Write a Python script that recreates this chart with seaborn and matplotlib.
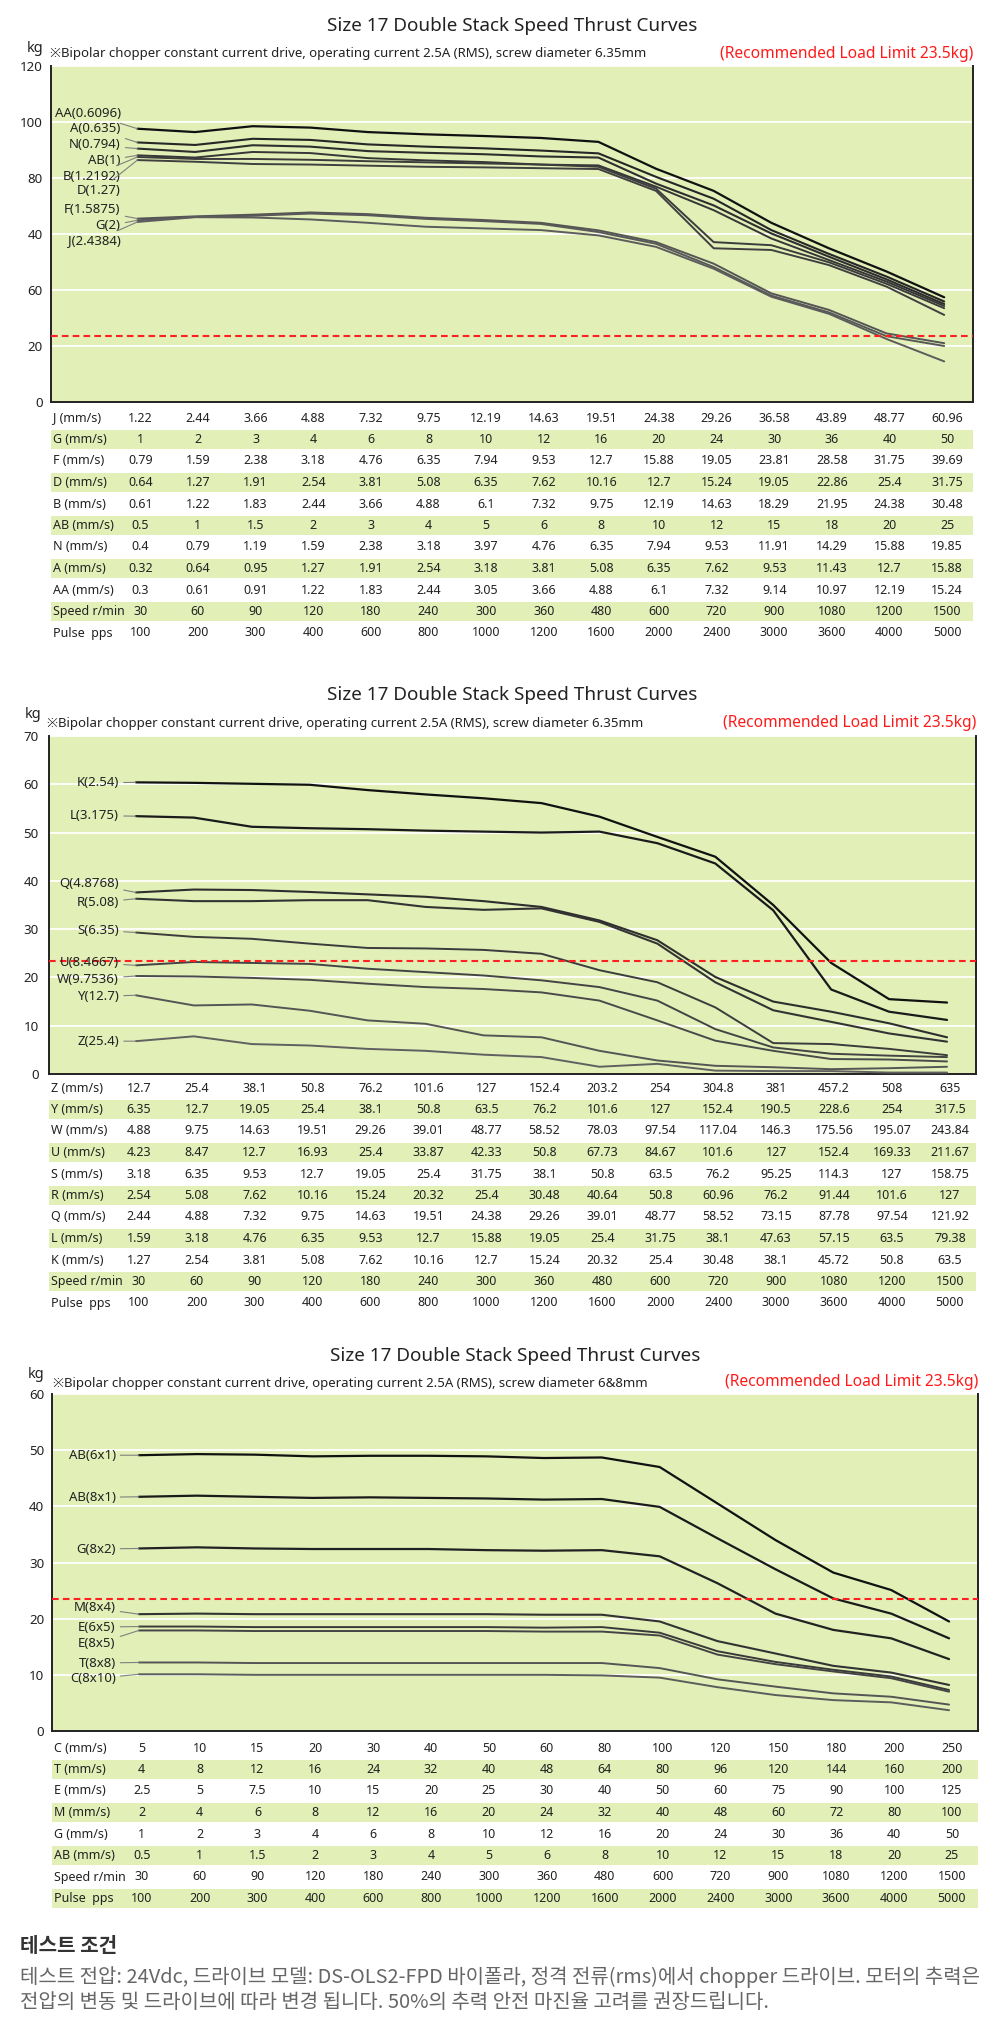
import numpy as np
import pandas as pd
import matplotlib
matplotlib.use("Agg")
import matplotlib.pyplot as plt
import seaborn as sns

sns.set_style("white")
plt.rcParams["font.family"] = ["Noto Sans", "Noto Sans CJK KR", "DejaVu Sans"]

# ---------------------------------------------------------------- data
TITLE = "Size 17 Double Stack Speed Thrust Curves"
LIMIT_TEXT = "(Recommended Load Limit 23.5kg)"
LOAD_LIMIT = 23.5
SUB_635 = "※Bipolar chopper constant current drive, operating current 2.5A (RMS), screw diameter 6.35mm"
SUB_68 = "※Bipolar chopper constant current drive, operating current 2.5A (RMS), screw diameter 6&8mm"

speed = ["30", "60", "90", "120", "180", "240", "300", "360", "480", "600", "720", "900", "1080", "1200", "1500"]
pulse = ["100", "200", "300", "400", "600", "800", "1000", "1200", "1600", "2000", "2400", "3000", "3600", "4000", "5000"]

# panel 1 curves (kg at each speed column)
p1_names = ["AA(0.6096)", "A(0.635)", "N(0.794)", "AB(1)", "B(1.2192)", "D(1.27)", "F(1.5875)", "G(2)", "J(2.4384)"]
p1_AA = [97.6, 96.4, 98.5, 98.0, 96.4, 95.6, 95.0, 94.3, 92.9, 83.3, 75.4, 64.0, 54.9, 46.6, 37.4]
p1_A = [92.7, 91.8, 94.0, 93.6, 92.0, 91.2, 90.6, 89.8, 88.8, 80.4, 72.6, 61.4, 52.9, 44.8, 35.9]
p1_N = [90.5, 89.3, 91.7, 91.2, 89.6, 89.0, 88.5, 87.7, 87.3, 78.0, 70.2, 60.2, 51.9, 43.8, 35.0]
p1_AB = [88.1, 87.3, 89.3, 88.9, 87.1, 86.3, 85.7, 84.8, 84.5, 76.9, 68.5, 58.4, 50.7, 43.0, 34.3]
p1_B = [87.5, 86.8, 86.8, 86.5, 86.0, 85.6, 85.2, 84.8, 84.0, 76.2, 57.1, 56.0, 49.9, 42.2, 33.5]
p1_D = [86.4, 85.8, 85.0, 84.8, 84.4, 84.0, 83.8, 83.5, 83.2, 75.4, 54.9, 54.3, 48.9, 41.2, 31.1]
p1_F = [65.5, 66.3, 66.9, 67.7, 67.1, 65.8, 65.0, 64.0, 61.3, 57.1, 49.4, 38.8, 32.9, 24.5, 21.0]
p1_G = [64.9, 66.1, 66.5, 67.3, 66.7, 65.4, 64.6, 63.6, 60.7, 56.5, 48.2, 38.0, 32.0, 23.5, 20.0]
p1_J = [64.3, 66.0, 65.9, 65.2, 64.0, 62.6, 62.0, 61.4, 59.5, 55.4, 47.6, 37.6, 31.5, 22.5, 14.5]
p1_label_y = [103.2, 97.5, 91.8, 86.1, 80.7, 75.4, 68.6, 62.9, 57.5]
p1_yticks = [0, 20, 40, 60, 80, 100, 120]
p1_yticklabels = ["0", "20", "60", "40", "80", "100", "120"]

p1_rows = [
    ("J (mm/s)", ["1.22", "2.44", "3.66", "4.88", "7.32", "9.75", "12.19", "14.63", "19.51", "24.38", "29.26", "36.58", "43.89", "48.77", "60.96"]),
    ("G (mm/s)", ["1", "2", "3", "4", "6", "8", "10", "12", "16", "20", "24", "30", "36", "40", "50"]),
    ("F (mm/s)", ["0.79", "1.59", "2.38", "3.18", "4.76", "6.35", "7.94", "9.53", "12.7", "15.88", "19.05", "23.81", "28.58", "31.75", "39.69"]),
    ("D (mm/s)", ["0.64", "1.27", "1.91", "2.54", "3.81", "5.08", "6.35", "7.62", "10.16", "12.7", "15.24", "19.05", "22.86", "25.4", "31.75"]),
    ("B (mm/s)", ["0.61", "1.22", "1.83", "2.44", "3.66", "4.88", "6.1", "7.32", "9.75", "12.19", "14.63", "18.29", "21.95", "24.38", "30.48"]),
    ("AB (mm/s)", ["0.5", "1", "1.5", "2", "3", "4", "5", "6", "8", "10", "12", "15", "18", "20", "25"]),
    ("N (mm/s)", ["0.4", "0.79", "1.19", "1.59", "2.38", "3.18", "3.97", "4.76", "6.35", "7.94", "9.53", "11.91", "14.29", "15.88", "19.85"]),
    ("A (mm/s)", ["0.32", "0.64", "0.95", "1.27", "1.91", "2.54", "3.18", "3.81", "5.08", "6.35", "7.62", "9.53", "11.43", "12.7", "15.88"]),
    ("AA (mm/s)", ["0.3", "0.61", "0.91", "1.22", "1.83", "2.44", "3.05", "3.66", "4.88", "6.1", "7.32", "9.14", "10.97", "12.19", "15.24"]),
    ("Speed r/min", speed),
    ("Pulse  pps", pulse),
]

# panel 2 curves
p2_names = ["K(2.54)", "L(3.175)", "Q(4.8768)", "R(5.08)", "S(6.35)", "U(8.4667)", "W(9.7536)", "Y(12.7)", "Z(25.4)"]
p2_K = [60.4, 60.3, 60.1, 59.9, 58.8, 57.9, 57.1, 56.1, 53.3, 49.1, 45.0, 35.0, 23.0, 15.5, 14.8]
p2_L = [53.4, 53.1, 51.2, 50.9, 50.7, 50.4, 50.2, 50.0, 50.2, 47.8, 43.6, 33.9, 17.5, 12.9, 11.2]
p2_Q = [37.6, 38.2, 38.1, 37.7, 37.2, 36.7, 35.8, 34.6, 31.8, 27.7, 20.1, 15.0, 12.9, 10.5, 7.6]
p2_R = [36.3, 35.8, 35.8, 36.0, 36.0, 34.6, 34.0, 34.3, 31.5, 27.0, 19.0, 13.2, 10.8, 8.4, 6.7]
p2_S = [29.3, 28.4, 28.0, 27.0, 26.1, 26.0, 25.7, 24.9, 21.5, 19.0, 13.8, 6.4, 6.2, 5.2, 3.9]
p2_U = [22.5, 23.2, 23.0, 22.8, 21.8, 21.1, 20.4, 19.4, 18.0, 15.2, 9.3, 5.5, 4.2, 3.8, 3.5]
p2_W = [20.3, 20.2, 19.9, 19.5, 18.7, 18.0, 17.6, 16.9, 15.2, 11.1, 6.9, 4.8, 3.1, 3.0, 2.6]
p2_Y = [16.3, 14.2, 14.4, 13.1, 11.1, 10.4, 8.0, 7.6, 4.8, 2.8, 1.7, 1.4, 1.0, 1.2, 1.5]
p2_Z = [6.8, 7.8, 6.2, 5.9, 5.2, 4.8, 4.0, 3.5, 1.5, 2.1, 0.7, 0.6, 0.6, 0.3, 0.3]
p2_label_y = [60.3, 53.5, 39.5, 35.5, 29.8, 23.1, 19.6, 16.1, 6.8]
p2_yticks = [0, 10, 20, 30, 40, 50, 60, 70]
p2_yticklabels = ["0", "10", "20", "30", "40", "50", "60", "70"]

p2_rows = [
    ("Z (mm/s)", ["12.7", "25.4", "38.1", "50.8", "76.2", "101.6", "127", "152.4", "203.2", "254", "304.8", "381", "457.2", "508", "635"]),
    ("Y (mm/s)", ["6.35", "12.7", "19.05", "25.4", "38.1", "50.8", "63.5", "76.2", "101.6", "127", "152.4", "190.5", "228.6", "254", "317.5"]),
    ("W (mm/s)", ["4.88", "9.75", "14.63", "19.51", "29.26", "39.01", "48.77", "58.52", "78.03", "97.54", "117.04", "146.3", "175.56", "195.07", "243.84"]),
    ("U (mm/s)", ["4.23", "8.47", "12.7", "16.93", "25.4", "33.87", "42.33", "50.8", "67.73", "84.67", "101.6", "127", "152.4", "169.33", "211.67"]),
    ("S (mm/s)", ["3.18", "6.35", "9.53", "12.7", "19.05", "25.4", "31.75", "38.1", "50.8", "63.5", "76.2", "95.25", "114.3", "127", "158.75"]),
    ("R (mm/s)", ["2.54", "5.08", "7.62", "10.16", "15.24", "20.32", "25.4", "30.48", "40.64", "50.8", "60.96", "76.2", "91.44", "101.6", "127"]),
    ("Q (mm/s)", ["2.44", "4.88", "7.32", "9.75", "14.63", "19.51", "24.38", "29.26", "39.01", "48.77", "58.52", "73.15", "87.78", "97.54", "121.92"]),
    ("L (mm/s)", ["1.59", "3.18", "4.76", "6.35", "9.53", "12.7", "15.88", "19.05", "25.4", "31.75", "38.1", "47.63", "57.15", "63.5", "79.38"]),
    ("K (mm/s)", ["1.27", "2.54", "3.81", "5.08", "7.62", "10.16", "12.7", "15.24", "20.32", "25.4", "30.48", "38.1", "45.72", "50.8", "63.5"]),
    ("Speed r/min", speed),
    ("Pulse  pps", pulse),
]

# panel 3 curves
p3_names = ["AB(6x1)", "AB(8x1)", "G(8x2)", "M(8x4)", "E(6x5)", "E(8x5)", "T(8x8)", "C(8x10)"]
p3_AB6 = [49.1, 49.3, 49.2, 48.9, 49.0, 49.0, 48.9, 48.6, 48.7, 47.0, 40.5, 34.0, 28.2, 25.1, 19.5]
p3_AB8 = [41.7, 41.9, 41.7, 41.5, 41.6, 41.5, 41.4, 41.2, 41.3, 39.9, 34.3, 28.8, 23.6, 20.9, 16.5]
p3_G = [32.5, 32.7, 32.5, 32.4, 32.4, 32.4, 32.2, 32.1, 32.2, 31.1, 26.3, 20.9, 18.0, 16.5, 12.8]
p3_M = [20.8, 20.9, 20.8, 20.8, 20.8, 20.8, 20.8, 20.7, 20.7, 19.5, 16.0, 13.8, 11.6, 10.4, 8.2]
p3_E6 = [18.6, 18.6, 18.5, 18.5, 18.5, 18.5, 18.5, 18.4, 18.5, 17.5, 14.2, 12.3, 10.9, 9.7, 7.3]
p3_E8 = [17.9, 17.9, 17.8, 17.8, 17.8, 17.8, 17.8, 17.7, 17.7, 17.0, 13.6, 11.9, 10.6, 9.4, 7.0]
p3_T = [12.2, 12.2, 12.1, 12.1, 12.1, 12.1, 12.1, 12.1, 12.1, 11.2, 9.2, 7.9, 6.7, 6.1, 4.7]
p3_C = [10.1, 10.1, 10.0, 10.0, 10.0, 10.0, 10.0, 10.0, 9.9, 9.5, 7.8, 6.4, 5.5, 5.1, 3.7]
p3_label_y = [49.1, 41.6, 32.4, 21.9, 18.5, 15.5, 12.1, 9.3]
p3_yticks = [0, 10, 20, 30, 40, 50, 60]
p3_yticklabels = ["0", "10", "20", "30", "40", "50", "60"]

p3_rows = [
    ("C (mm/s)", ["5", "10", "15", "20", "30", "40", "50", "60", "80", "100", "120", "150", "180", "200", "250"]),
    ("T (mm/s)", ["4", "8", "12", "16", "24", "32", "40", "48", "64", "80", "96", "120", "144", "160", "200"]),
    ("E (mm/s)", ["2.5", "5", "7.5", "10", "15", "20", "25", "30", "40", "50", "60", "75", "90", "100", "125"]),
    ("M (mm/s)", ["2", "4", "6", "8", "12", "16", "20", "24", "32", "40", "48", "60", "72", "80", "100"]),
    ("G (mm/s)", ["1", "2", "3", "4", "6", "8", "10", "12", "16", "20", "24", "30", "36", "40", "50"]),
    ("AB (mm/s)", ["0.5", "1", "1.5", "2", "3", "4", "5", "6", "8", "10", "12", "15", "18", "20", "25"]),
    ("Speed r/min", speed),
    ("Pulse  pps", pulse),
]

NOTE_TITLE = "테스트 조건"
NOTE_LINE1 = "테스트 전압: 24Vdc, 드라이브 모델: DS-OLS2-FPD 바이폴라, 정격 전류(rms)에서 chopper 드라이브. 모터의 추력은"
NOTE_LINE2 = "전압의 변동 및 드라이브에 따라 변경 됩니다. 50%의 추력 안전 마진율 고려를 권장드립니다."

# ---------------------------------------------------------------- style
W, H = 1000, 2036
GREEN = "#E2EFB7"
INK = "#222222"
fig = plt.figure(figsize=(W / 100, H / 100), dpi=100)


def fy(y):
    return 1 - y / H


def rect(l, t, r, b):
    return [l / W, 1 - b / H, (r - l) / W, (b - t) / H]


def panel(box, ymax, yticks, yticklabels, names, series, colors, widths,
          label_y, label_x, rows, row0, title_y, kg_xy, sub, sub_xy, red_y, ylab_pad):
    l, t, r, b = box
    ax = fig.add_axes(rect(l, t, r, b))
    ax.set_facecolor(GREEN)
    n = len(series[0])
    cols = np.arange(n)
    df = pd.concat([pd.DataFrame({"col": cols, "kg": s, "curve": nm}) for nm, s in zip(names, series)])
    for nm, c, w in zip(names, colors, widths):
        sns.lineplot(data=df[df["curve"] == nm], x="col", y="kg", color=c, linewidth=w,
                     estimator=None, legend=False, ax=ax, zorder=3)
    ax.set_xlim(-1.5, n - 0.5)
    ax.set_ylim(0, ymax)
    ax.set_xlabel("")
    ax.set_ylabel("")
    ax.set_yticks(yticks)
    ax.set_yticklabels(yticklabels, fontsize=9.6, color=INK)
    ax.tick_params(axis="y", length=0, pad=ylab_pad)
    ax.set_xticks(cols - 0.5)
    ax.set_xticklabels([])
    ax.tick_params(axis="x", direction="in", length=5.5, width=1.1, color=INK)
    ax.yaxis.grid(True, color="white", linewidth=1.3)
    ax.xaxis.grid(False)
    ax.set_axisbelow(True)
    for sp in ["left", "bottom", "right"]:
        ax.spines[sp].set_color(INK)
        ax.spines[sp].set_linewidth(1.4)
    ax.spines["top"].set_visible(False)
    ax.axhline(LOAD_LIMIT, color="#FF2020", linewidth=1.5, dashes=(3.2, 2.0), zorder=4)
    for nm, ly, s in zip(names, label_y, series):
        ax.annotate(nm, xy=(0, s[0]), xytext=(label_x, ly), ha="right", va="center",
                    fontsize=9.5, color=INK, zorder=5,
                    arrowprops=dict(arrowstyle="-", color="#808080", lw=0.8,
                                    shrinkA=1, shrinkB=0))
    # title & notes
    fig.text((l + r) / 2 / W, fy(title_y), TITLE, ha="center", va="center", fontsize=13.6, color=INK)
    fig.text(kg_xy[0] / W, fy(kg_xy[1]), "kg", ha="center", va="center", fontsize=10.5, color=INK)
    fig.text(sub_xy[0] / W, fy(sub_xy[1]), sub, ha="left", va="center", fontsize=9.5, color=INK)
    fig.text(r / W, fy(red_y), LIMIT_TEXT, ha="right", va="center", fontsize=11.2, color="#FF1A1A")

    # table
    rh = 21.5
    nr = len(rows)
    tax = fig.add_axes(rect(l, row0 - rh / 2, r, row0 + (nr - 0.5) * rh))
    tax.set_xlim(-1.5, n - 0.5)
    tax.set_ylim(nr - 0.5, -0.5)
    tax.axis("off")
    for i, (lab, vals) in enumerate(rows):
        if i % 2 == 1:
            tax.axhspan(i - 0.46, i + 0.46, color=GREEN, lw=0, zorder=0)
        tax.text(-1.46, i, lab, ha="left", va="center", fontsize=9, color=INK)
        for j, v in enumerate(vals):
            tax.text(j + 0.05, i, v, ha="center", va="center", fontsize=9, color=INK)
    return ax


dark = ["#111111", "#262626", "#2e2e2e", "#363636", "#3c3c3c", "#404040", "#555555", "#585858", "#5c5c5c"]
panel((51, 66, 973, 402), 120, p1_yticks, p1_yticklabels, p1_names,
      [p1_AA, p1_A, p1_N, p1_AB, p1_B, p1_D, p1_F, p1_G, p1_J], dark,
      [1.6, 1.5, 1.5, 1.4, 1.4, 1.4, 1.4, 1.4, 1.4],
      p1_label_y, -0.29, p1_rows, 418, 26, (35, 48), SUB_635, (50, 54), 54, 6)

c2 = ["#111111", "#1a1a1a", "#2e2e2e", "#333333", "#3c3c3c", "#444444", "#4a4a4a", "#555555", "#606060"]
panel((49, 736, 976, 1074), 70, p2_yticks, p2_yticklabels, p2_names,
      [p2_K, p2_L, p2_Q, p2_R, p2_S, p2_U, p2_W, p2_Y, p2_Z], c2,
      [1.6, 1.6, 1.5, 1.5, 1.4, 1.4, 1.4, 1.4, 1.4],
      p2_label_y, -0.29, p2_rows, 1088, 695, (33, 715), SUB_635, (47, 724), 723, 7.5)

c3 = ["#111111", "#1a1a1a", "#222222", "#333333", "#3a3a3a", "#444444", "#555555", "#5c5c5c"]
panel((52, 1394, 978, 1731), 60, p3_yticks, p3_yticklabels, p3_names,
      [p3_AB6, p3_AB8, p3_G, p3_M, p3_E6, p3_E8, p3_T, p3_C], c3,
      [1.6, 1.6, 1.6, 1.5, 1.4, 1.4, 1.4, 1.4],
      p3_label_y, -0.40, p3_rows, 1748, 1356, (36, 1374), SUB_68, (53, 1383), 1382, 5.5)

fig.text(20 / W, fy(1945), NOTE_TITLE, ha="left", va="center", fontsize=14.5, fontweight="bold",
         color="#333333", family=["Noto Sans CJK KR", "DejaVu Sans"])
fig.text(20 / W, fy(1977), NOTE_LINE1, ha="left", va="center", fontsize=14.4,
         color="#666666", family=["Noto Sans CJK KR", "DejaVu Sans"])
fig.text(20 / W, fy(2002), NOTE_LINE2, ha="left", va="center", fontsize=14.4,
         color="#666666", family=["Noto Sans CJK KR", "DejaVu Sans"])

fig.savefig("out.png", dpi=100, facecolor="white")
